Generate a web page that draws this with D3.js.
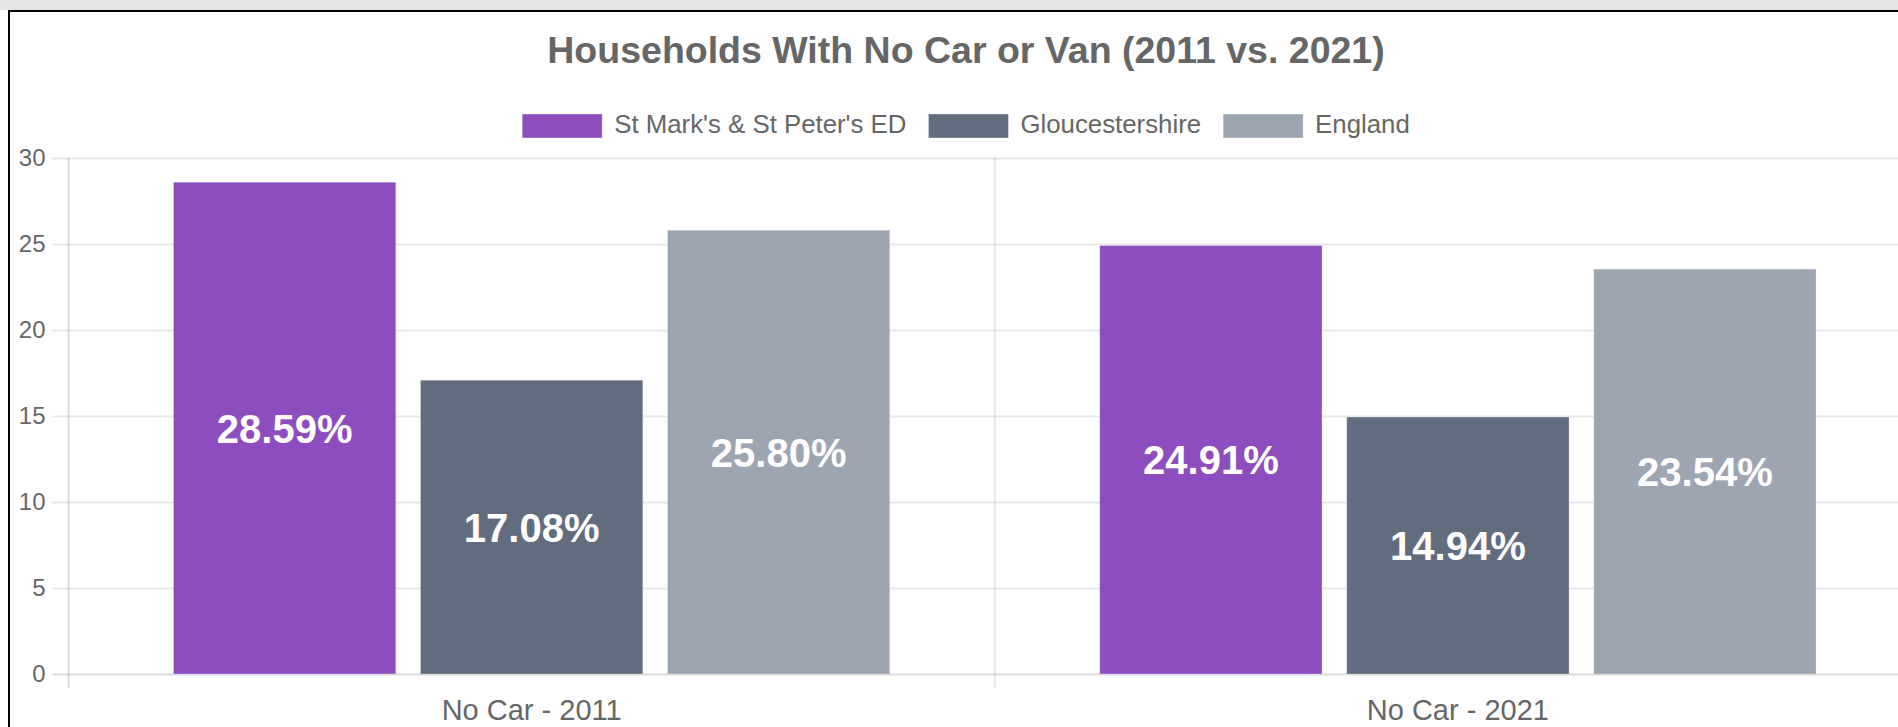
<!DOCTYPE html>
<html>
<head>
<meta charset="utf-8">
<script src="https://cdn.jsdelivr.net/npm/d3@7"></script>
<style>
  html, body { margin: 0; padding: 0; background: #fff; overflow: hidden; }
  svg { display: block; font-family: "Liberation Sans", Arial, Helvetica, sans-serif; }
</style>
</head>
<body>
<script>
// chart data
var categories = ["No Car - 2011", "No Car - 2021"];
var seriesNames = ["St Mark's & St Peter's ED", "Gloucestershire", "England"];
var stMarksValues = [28.59, 24.91];
var gloucestershireValues = [17.08, 14.94];
var englandValues = [25.80, 23.54];
var yTicks = [0, 5, 10, 15, 20, 25, 30];
var colors = ["#8d4dbe", "#616c7f", "#9ea5b2"];
var titleText = "Households With No Car or Van (2011 vs. 2021)";

var seriesValues = [stMarksValues, gloucestershireValues, englandValues];

var width = 1898, height = 727;
var plotLeft = 68.5, plotRight = 1921, plotTop = 158, plotBottom = 674;
var centerX = 966;

var svg = d3.select("body").append("svg")
  .attr("width", width)
  .attr("height", height);

// page frame
svg.append("rect").attr("x", 0).attr("y", 0).attr("width", width).attr("height", 10).attr("fill", "#e5e5e5");
svg.append("rect").attr("x", 8).attr("y", 10).attr("width", width).attr("height", 2).attr("fill", "#000");
svg.append("rect").attr("x", 8).attr("y", 10).attr("width", 2).attr("height", height).attr("fill", "#000");

var x = d3.scaleBand()
  .domain(categories)
  .range([plotLeft, plotRight])
  .paddingInner(0)
  .paddingOuter(0);

var xSeries = d3.scaleBand()
  .domain(seriesNames)
  .range([x.bandwidth() * 0.1, x.bandwidth() * 0.9])
  .paddingInner(0)
  .paddingOuter(0);

var y = d3.scaleLinear()
  .domain([0, 30])
  .range([plotBottom, plotTop]);

// horizontal grid + y ticks
var yAxis = d3.axisLeft(y)
  .tickValues(yTicks)
  .tickSize(-(plotRight - plotLeft))
  .tickPadding(23)
  .tickFormat(d3.format("d"));

var gy = svg.append("g")
  .attr("transform", "translate(" + plotLeft + ",0)")
  .call(yAxis);
gy.select(".domain").remove();
gy.selectAll(".tick line")
  .attr("x2", plotRight - plotLeft)
  .attr("x1", -16)
  .attr("stroke", function(d) { return d === 0 ? "rgba(0,0,0,0.14)" : "rgba(0,0,0,0.09)"; })
  .attr("stroke-width", 2);
gy.selectAll(".tick text")
  .attr("fill", "#666")
  .attr("font-size", 24)
  .attr("font-family", "Liberation Sans, Arial, sans-serif")
  .attr("x", -23);

// vertical grid at category boundaries
var boundaries = categories.map(function(c) { return x(c); }).concat([plotRight]);
svg.append("g").selectAll("line")
  .data(boundaries)
  .enter().append("line")
  .attr("x1", function(d) { return d; })
  .attr("x2", function(d) { return d; })
  .attr("y1", plotTop)
  .attr("y2", plotBottom + 14)
  .attr("stroke", function(d, i) { return i === 0 ? "rgba(0,0,0,0.14)" : "rgba(0,0,0,0.09)"; })
  .attr("stroke-width", 2);

// x labels
svg.append("g").selectAll("text")
  .data(categories)
  .enter().append("text")
  .attr("x", function(d) { return x(d) + x.bandwidth() / 2; })
  .attr("y", 720)
  .attr("text-anchor", "middle")
  .attr("fill", "#666")
  .attr("font-size", 29)
  .text(function(d) { return d; });

// bars
var barData = [];
seriesNames.forEach(function(s, si) {
  categories.forEach(function(c, ci) {
    barData.push({ series: s, category: c, value: seriesValues[si][ci], color: colors[si] });
  });
});

var slot = xSeries.bandwidth();
var barW = slot * 0.9;

var bars = svg.append("g").selectAll("g")
  .data(barData)
  .enter().append("g");

bars.append("rect")
  .attr("x", function(d) { return x(d.category) + xSeries(d.series) + (slot - barW) / 2; })
  .attr("y", function(d) { return y(d.value); })
  .attr("width", barW)
  .attr("height", function(d) { return y(0) - y(d.value); })
  .attr("fill", function(d) { return d.color; })
  .attr("stroke", "rgba(255,255,255,0.25)")
  .attr("stroke-width", 1);

bars.append("text")
  .attr("x", function(d) { return x(d.category) + xSeries(d.series) + slot / 2; })
  .attr("y", function(d) { return (y(d.value) + y(0)) / 2; })
  .attr("dy", "0.36em")
  .attr("text-anchor", "middle")
  .attr("fill", "#fff")
  .attr("font-size", 40)
  .attr("font-weight", "bold")
  .text(function(d) { return d.value.toFixed(2) + "%"; });

// title
svg.append("text")
  .attr("x", centerX)
  .attr("y", 63)
  .attr("text-anchor", "middle")
  .attr("fill", "#666")
  .attr("font-size", 37.5)
  .attr("font-weight", "bold")
  .text(titleText);

// legend
var legend = svg.append("g");
var items = legend.selectAll("g")
  .data(seriesNames)
  .enter().append("g");
items.append("rect")
  .attr("width", 80)
  .attr("height", 24)
  .attr("y", 114)
  .attr("fill", function(d, i) { return colors[i]; })
  .attr("stroke", "rgba(255,255,255,0.35)")
  .attr("stroke-width", 1);
items.append("text")
  .attr("x", 92)
  .attr("y", 132.5)
  .attr("fill", "#666")
  .attr("font-size", 25.8)
  .text(function(d) { return d; });

var offsets = [], total = 0;
items.each(function(d, i) {
  var w = 92 + d3.select(this).select("text").node().getComputedTextLength();
  offsets.push(total);
  total += w + (i < seriesNames.length - 1 ? 22 : 0);
});
var start = centerX - total / 2;
items.attr("transform", function(d, i) { return "translate(" + (start + offsets[i]) + ",0)"; });
</script>
</body>
</html>
